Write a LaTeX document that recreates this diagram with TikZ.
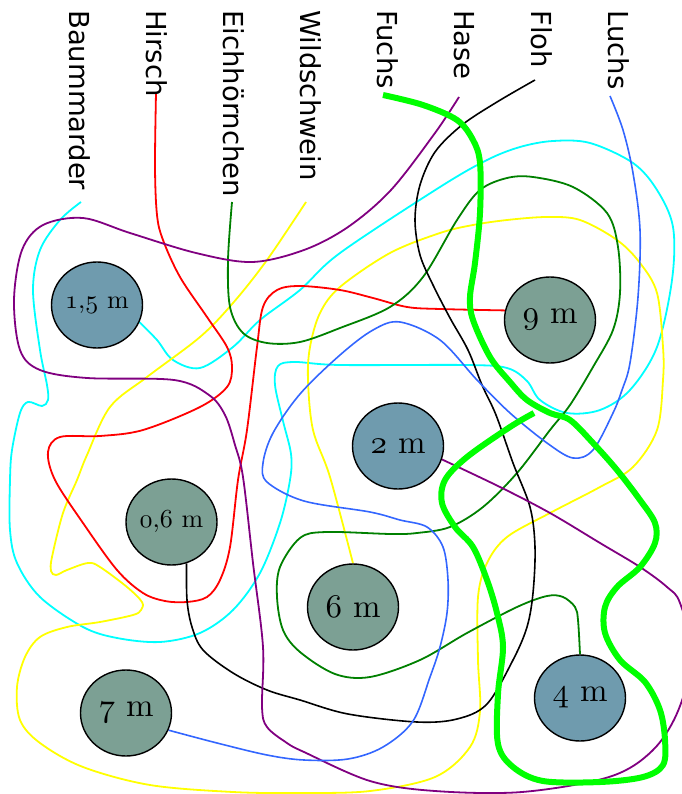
\documentclass[tikz,border=0pt]{standalone}
\usepackage{fontspec}
\usetikzlibrary{shapes.geometric,backgrounds}
\newfontfamily\labfont{DejaVu Sans}
\font\osbig=cmmi10 at 33pt
\font\ossmall=cmmi10 at 26pt
\font\tbig=cmr10 at 33pt
\font\tsmall=cmr10 at 26pt
\definecolor{treeblue}{HTML}{6F9BAE}
\definecolor{treegreen}{HTML}{7CA094}
\definecolor{luchsblue}{HTML}{3366FF}
\definecolor{hasepurple}{HTML}{800080}
\definecolor{eichgreen}{HTML}{008000}
\definecolor{fuchsgreen}{HTML}{00FF00}
\definecolor{baumcyan}{HTML}{00FFFF}
\definecolor{wildyellow}{HTML}{FFFF00}
\definecolor{hirschred}{HTML}{FF0000}
\begin{document}
\begin{tikzpicture}[x=1pt,y=-1pt,
  lab/.style={rotate=-90,anchor=base west,inner sep=0pt,font=\labfont\fontsize{27.5}{30}\selectfont},
  tree/.style={ellipse,draw=black,line width=1.4pt,minimum width=91pt,minimum height=86pt,inner sep=0pt,font=\tbig},
  treeb/.style={tree,fill=treeblue},
  treeg/.style={tree,fill=treegreen},
  small/.style={font=\tsmall},
  trail/.style={line width=1.8pt},
  sm/.style={smooth,tension=0.55}]
\useasboundingbox (0,0) rectangle (681,794);
\clip (0,0) rectangle (681,794);
% labels
\node[lab] (lBaum) at (69,10) {Baummarder};
\node[lab] (lHirsch) at (146.5,10) {Hirsch};
\node[lab] (lEich) at (223.5,10) {Eichhörnchen};
\node[lab] (lWild) at (300.5,10) {Wildschwein};
\node[lab] (lFuchs) at (377.5,10) {Fuchs};
\node[lab] (lHase) at (454.5,10) {Hase};
\node[lab] (lFloh) at (531.5,10) {Floh};
\node[lab] (lLuchs) at (608.5,10) {Luchs};
% trail starts
\coordinate (sBaum) at (81,202);
\coordinate (sHirsch) at (156,93);
\coordinate (sEich) at (232,202);
\coordinate (sWild) at (306,202);
\coordinate (sFuchs) at (383,95);
\coordinate (sHase) at (459,97);
\coordinate (sFloh) at (535,80);
\coordinate (sLuchs) at (610,96);
\coordinate (eFuchs) at (534,413);
% trees
\node[treeb,small] (n15) at (97,305) {{\ossmall 1},{\ossmall 5} m};
\node[treeg] (n9) at (550,320) {{\osbig 9} m};
\node[treeb] (n2) at (398,446) {{\osbig 2} m};
\node[treeg,small] (n06) at (171.5,522) {{\ossmall 0},{\ossmall 6} m};
\node[treeg] (n6) at (353,607) {{\osbig 6} m};
\node[treeg] (n7) at (126,713) {{\osbig 7} m};
\node[treeb] (n4) at (580,698) {{\osbig 4} m};
\begin{pgfonlayer}{background}
% Baummarder (cyan)
\draw[trail,baumcyan] plot[sm] coordinates {(sBaum) (60,220) (40,250) (33,290) (40,350) (47,385) (48,400) (42,406) (28,402) (20,413) (12,450) (10,480) (10,530) (17,563) (40,597) (83,627) (117,638) (160,642) (200,633) (233,610) (260,573) (280,523) (290,480) (291,454) (283,421) (275,385) (278,366) (295,362) (340,365) (467,365) (507,368) (527,381) (540,400) (567,413) (600,410) (630,390) (657,347) (672,280) (673,227) (657,190) (633,163) (590,143) (553,141) (520,147) (487,160) (440,187) (340,253) (300,290) (260,320) (233,347) (200,368) (173,360) (157,340) (n15.-22)};
% Wildschwein (yellow)
\draw[trail,wildyellow] plot[sm] coordinates {(sWild) (267,260) (233,303) (200,337) (147,377) (110,407) (87,455) (77,480) (63,513) (52,557) (51,571) (56,575) (67,570) (88,563) (100,567) (127,587) (142,602) (141,610) (133,615) (100,622) (67,627) (40,637) (25,657) (17,687) (20,720) (40,743) (83,767) (150,785) (233,792) (300,793) (370,791) (435,777) (470,747) (480,711) (478,660) (478,597) (487,563) (507,537) (550,513) (600,487) (633,467) (657,430) (663,380) (663,347) (657,293) (640,263) (617,240) (580,220) (547,217) (507,220) (473,225) (440,233) (390,253) (340,287) (320,313) (310,347) (308,380) (313,430) (330,477) (n6.north)};
% Hirsch (red)
\draw[trail,hirschred] plot[sm] coordinates {(sHirsch) (155,167) (157,215) (163,240) (180,277) (207,317) (227,347) (232,367) (227,387) (200,407) (143,430) (100,436) (60,437) (48,452) (55,480) (83,523) (117,570) (143,593) (165,601) (187,602) (207,597) (220,580) (230,547) (238,480) (247,430) (257,347) (263,307) (277,290) (300,286) (340,290) (373,298) (407,307) (440,309) (n9.168)};
% Eichhoernchen (green)
\draw[trail,eichgreen] plot[sm] coordinates {(sEich) (228,260) (230,307) (243,333) (267,343) (300,342) (340,328) (390,307) (423,277) (457,220) (480,190) (507,178) (533,177) (573,187) (607,213) (618,247) (620,293) (613,330) (593,367) (570,405) (550,430) (517,473) (483,507) (450,527) (417,533) (391,534) (326,532) (300,538) (280,567) (277,597) (283,630) (300,652) (335,674) (370,677) (420,660) (467,633) (517,607) (547,596) (563,597) (575,607) (578,620) (n4.north)};
% Floh (black)
\draw[trail,black,line width=1.6pt] plot[sm] coordinates {(sFloh) (497,102) (462,125) (435,152) (420,185) (415,220) (420,255) (433,285) (450,318) (468,350) (482,385) (496,415) (513,463) (530,507) (535,547) (533,593) (527,627) (513,660) (487,704) (457,719) (417,722) (348,714) (300,700) (267,690) (233,673) (203,650) (192,627) (187,600) (n06.-70)};
% Hase (purple)
\draw[trail,hasepurple] plot[sm] coordinates {(sHase) (435,133) (391,190) (348,227) (304,250) (252,262) (196,253) (130,233) (83,218) (43,225) (22,250) (14,300) (20,350) (40,370) (87,378) (174,380) (209,395) (225,415) (235,445) (243,477) (253,563) (263,647) (262,707) (267,727) (287,743) (304,752) (370,781) (435,791) (522,792) (609,777) (652,751) (678,711) (692,655) (680,603) (667,587) (640,567) (600,543) (550,513) (500,487) (n2.-17)};
% Luchs (blue)
\draw[trail,luchsblue,line width=1.6pt] plot[sm] coordinates {(sLuchs) (623,130) (633,173) (640,230) (638,297) (630,363) (622,390) (613,413) (593,450) (573,458) (547,443) (510,413) (477,380) (440,340) (400,322) (373,330) (340,355) (300,394) (273,433) (263,463) (267,482) (304,501) (370,512) (400,520) (427,527) (443,547) (448,580) (447,613) (440,647) (430,677) (413,721) (383,747) (348,759) (304,760) (267,755) (217,743) (n7.-22)};
% Fuchs (thick green)
\draw[fuchsgreen,line width=6pt] plot[sm] coordinates {(sFuchs) (423,105) (457,120) (473,140) (480,163) (480,213) (475,263) (470,297) (473,320) (490,357) (510,382) (527,400) (550,413) (570,420) (593,443) (617,470) (640,500) (655,523) (655,543) (640,567) (617,587) (605,607) (605,633) (620,660) (645,682) (660,710) (665,740) (663,765) (643,777) (600,782) (543,781) (513,767) (498,744) (498,694) (503,647) (497,613) (487,580) (473,547) (455,527) (442,503) (445,480) (467,457) (510,427) (eFuchs)};
\end{pgfonlayer}
\end{tikzpicture}
\end{document}
